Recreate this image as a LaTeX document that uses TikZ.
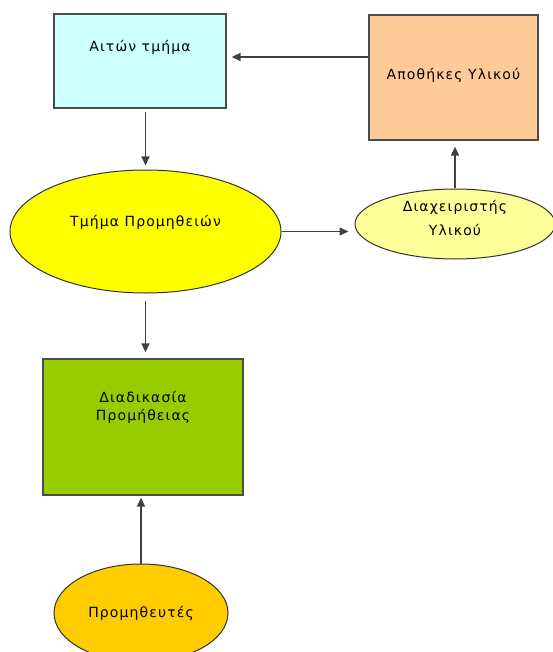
\documentclass[tikz,border=0pt]{standalone}
\usepackage{fontspec}
\setmainfont{DejaVu Sans}[LetterSpace=8]
\usetikzlibrary{arrows.meta,shapes.geometric}
\definecolor{aqua}{HTML}{CCFFFF}
\definecolor{peach}{HTML}{FFCC99}
\definecolor{lemon}{HTML}{FFFF00}
\definecolor{cream}{HTML}{FFFF99}
\definecolor{leaf}{HTML}{99CC00}
\definecolor{amber}{HTML}{FFCC00}
\begin{document}
\begin{tikzpicture}[>={Triangle[length=9pt,width=8pt]},x=1pt,y=-1pt,
	every node/.style={font=\fontsize{14}{18}\selectfont,inner sep=0pt},
	box/.style={draw=black!70,line width=1.3pt,rectangle},
	oval/.style={draw=black!80,line width=1pt,ellipse},
	arr/.style={->,draw=black!75,line width=1.5pt}]
	\useasboundingbox (0,0) rectangle (552,652);
	\node[box,fill=aqua,minimum width=172,minimum height=94,text height=0pt,text depth=18pt] (aiton) at (140,61) {Αιτών τμήμα};
	\node[box,fill=peach,minimum width=169,minimum height=125,text height=5pt,text depth=0pt] (apoth) at (453.5,77.5) {Αποθήκες Υλικού};
	\node[oval,fill=lemon,minimum width=271,minimum height=123,text height=0pt,text depth=10pt] (tmima) at (145.5,231.5) {Τμήμα Προμηθειών};
	\node[oval,fill=cream,minimum width=200,minimum height=70,align=center,text height=22pt,text depth=0pt] (diax) at (455,224) {Διαχειριστής\\[6pt]Υλικού};
	\node[box,fill=leaf,minimum width=200,minimum height=136,align=center,text height=0pt,text depth=14pt] (diad) at (143,427) {Διαδικασία\\Προμήθειας};
	\node[oval,fill=amber,minimum width=174,minimum height=98,text height=9pt,text depth=0pt] (prom) at (141,613) {Προμηθευτές};
	\draw[arr,shorten >=5pt] ([yshift=4pt]aiton.east -| apoth.west) -- ([yshift=4pt]aiton.east);
	\draw[arr,shorten <=3pt,shorten >=4pt] (aiton.south -| tmima.north) -- (tmima.north);
	\draw[arr,shorten >=6pt] (tmima.east) -- (tmima.east -| diax.west);
	\draw[arr,shorten >=6pt] (diax.north) -- (diax.north |- apoth.south);
	\draw[arr,shorten <=7pt,shorten >=6pt] (tmima.south) -- (tmima.south |- diad.north);
	\draw[arr,shorten >=2pt] (prom.north) -- (prom.north |- diad.south);
\end{tikzpicture}
\end{document}
